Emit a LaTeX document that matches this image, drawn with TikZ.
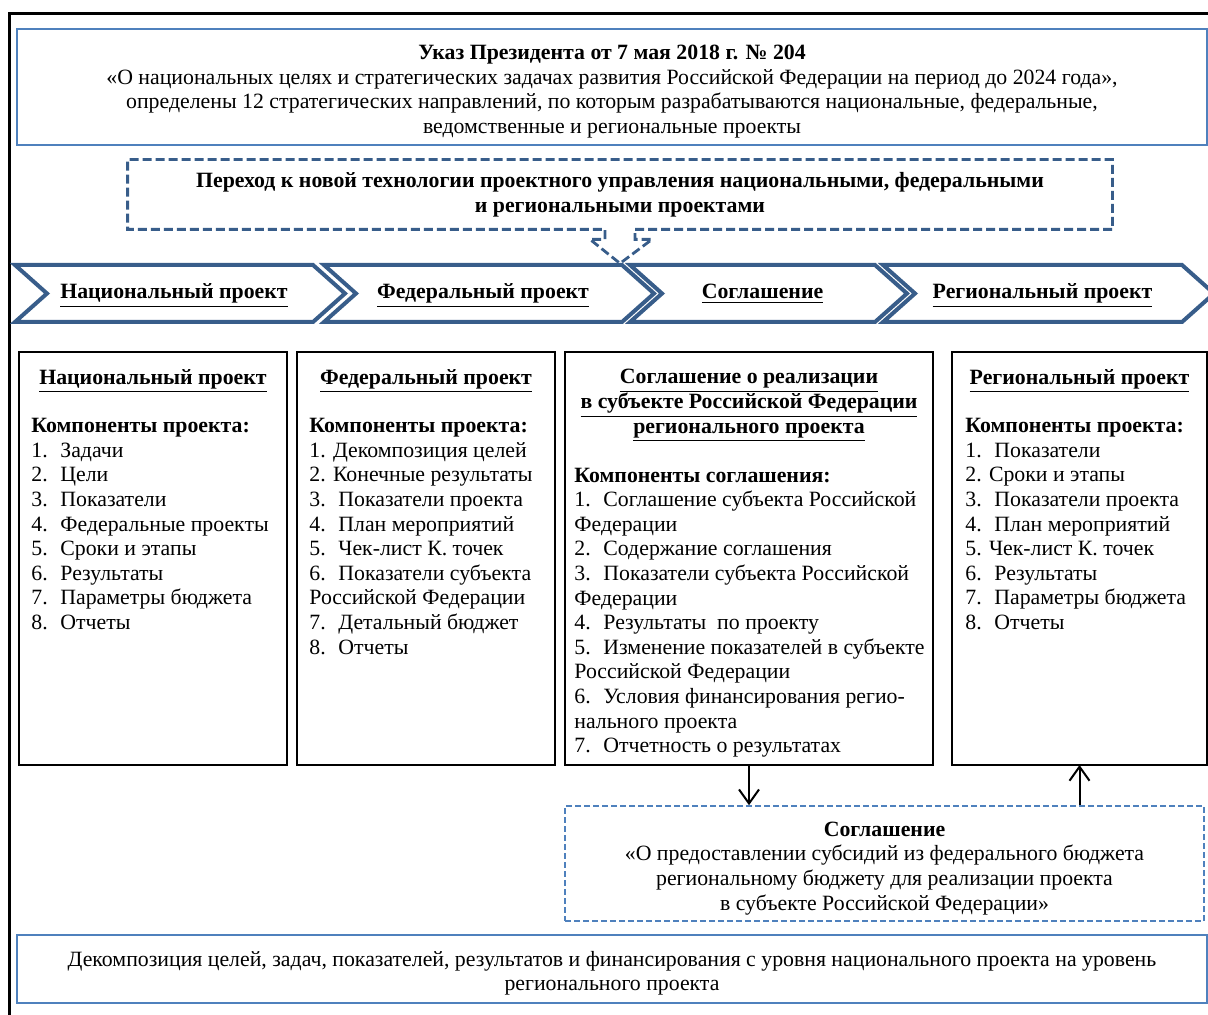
\documentclass[tikz,border=0pt]{standalone}
\usepackage{fontspec}
\setmainfont{Liberation Serif}
\definecolor{myblue}{RGB}{79,129,189}
\definecolor{mydarkblue}{RGB}{56,93,138}
\usetikzlibrary{arrows.meta,positioning,calc}
\newcommand{\nr}[1]{\makebox[14.5pt][l]{#1}}
\newcommand{\topstrut}{\rule{0pt}{12pt}}

\begin{document}
\begin{tikzpicture}[
  x=0.5pt, y=-0.5pt,
  every node/.style={font=\fontsize{10.9}{12.3}\selectfont},
  bluebox/.style={
    draw=myblue,
    line width=1.3pt,
    align=center,
    inner sep=0pt
    },
  dashbox/.style={
    draw=mydarkblue,
    line width=1.4pt,
    dash pattern=on 4.5pt off 2pt
    },
  subsbox/.style={
    draw=myblue,
    line width=0.8pt,
    dash pattern=on 3pt off 1.5pt,
    align=center,
    inner sep=0pt
    },
  chevron/.style={
    draw=mydarkblue,
    line width=2pt,
    fill=white
    },
  chevtext/.style={
    anchor=base,
    font=\fontsize{10.9}{12.3}\selectfont\bfseries
    },
  blackbox/.style={
    draw,
    line width=1pt,
    minimum height=206.5pt,
    inner sep=0pt,
    outer sep=0pt
    },
  boxtitle/.style={
    anchor=north,
    align=center,
    inner sep=0pt,
    font=\fontsize{10.9}{12.3}\selectfont\bfseries
    },
  boxlist/.style={
    anchor=north west,
    align=left,
    inner sep=0pt
    },
  arr/.style={
    line width=1pt,
    -{Straight Barb[length=7pt,width=10pt]}
    }
]
\useasboundingbox (0,0) rectangle (1208,1015);

% outer frame
\draw[line width=1.5pt] (9,1020) -- (9,14) -- (1212,14);

% decree
\node[bluebox, minimum width=595pt, minimum height=58pt] (ukaz) at (612,87)
  {\topstrut\textbf{Указ Президента от 7 мая 2018 г. № 204}\\
   «О национальных целях и стратегических задачах развития Российской Федерации на период до 2024 года»,\\
   определены 12 стратегических направлений, по которым разрабатываются национальные, федеральные,\\
   ведомственные и региональные проекты};

% transition box with dashed arrow
\node[align=center, inner sep=0pt, minimum width=492pt, minimum height=34.5pt] (perehod) at (620,194.5)
  {\textbf{Переход к новой технологии проектного управления национальными, федеральными}\\
   \textbf{и региональными проектами}};

% chevrons
\foreach \xl/\xr/\lbl [count=\i] in {15/313/Национальный проект, 324/622/Федеральный проект, 630/875/Соглашение, 883/1182/Региональный проект}
{
  \draw[chevron] (\xl,265) -- (\xr,265) -- (\xr+32,293.5) -- (\xr,322) -- (\xl,322) -- (\xl+32,293.5) -- cycle;
  \node[chevtext] (chev\i) at ({(\xl+\xr)/2+10},299) {\underline{\lbl}};
}

\draw[dashbox] ($(perehod.south)+(15,0)$) -- (perehod.south east) -- (perehod.north east)
  -- (perehod.north west) -- (perehod.south west) -- ($(perehod.south)+(-15,0)$)
  -- ++(0,10) -- ++(-15,0) -- ++(30,24) -- ++(32,-24) -- ++(-17,0) -- cycle;

% component boxes
\node[blackbox, minimum width=134pt] (natbox) at (153,558.5) {};
\node[blackbox, minimum width=129pt, right=5pt of natbox] (fedbox) {};
\node[blackbox, minimum width=184pt, right=5pt of fedbox] (soglbox) {};
\node[blackbox, minimum width=127.5pt, right=9.5pt of soglbox] (regbox) {};

\node[boxtitle] (nattitle) at ($(natbox.north)+(0,17)$) {\underline{Национальный проект}};
\node[boxtitle] (fedtitle) at ($(fedbox.north)+(0,17)$) {\underline{Федеральный проект}};
\node[boxtitle] (sogltitle) at ($(soglbox.north)+(0,17)$)
  {\underline{Соглашение о реализации}\\ \underline{в субъекте Российской Федерации}\\ \underline{регионального проекта}};
\node[boxtitle] (regtitle) at ($(regbox.north)+(0,17)$) {\underline{Региональный проект}};

\node[boxlist] (natlist) at ($(natbox.north west)+(12,66)$)
  {\textbf{Компоненты проекта:}\\
   \nr{1.}Задачи\\
   \nr{2.}Цели\\
   \nr{3.}Показатели\\
   \nr{4.}Федеральные проекты\\
   \nr{5.}Сроки и этапы\\
   \nr{6.}Результаты\\
   \nr{7.}Параметры бюджета\\
   \nr{8.}Отчеты};
\node[boxlist] (fedlist) at ($(fedbox.north west)+(12,66)$)
  {\textbf{Компоненты проекта:}\\
   1. Декомпозиция целей\\
   2. Конечные результаты\\
   \nr{3.}Показатели проекта\\
   \nr{4.}План мероприятий\\
   \nr{5.}Чек-лист К. точек\\
   \nr{6.}Показатели субъекта\\
   Российской Федерации\\
   \nr{7.}Детальный бюджет\\
   \nr{8.}Отчеты};
\node[boxlist] (sogllist) at ($(soglbox.north west)+(9,115.5)$)
  {\textbf{Компоненты соглашения:}\\
   \nr{1.}Соглашение субъекта Российской\\
   Федерации\\
   \nr{2.}Содержание соглашения\\
   \nr{3.}Показатели субъекта Российской\\
   Федерации\\
   \nr{4.}Результаты \ по проекту\\
   \nr{5.}Изменение показателей в субъекте\\
   Российской Федерации\\
   \nr{6.}Условия финансирования регио-\\
   нального проекта\\
   \nr{7.}Отчетность о результатах};
\node[boxlist] (reglist) at ($(regbox.north west)+(13,66)$)
  {\textbf{Компоненты проекта:}\\
   \nr{1.}Показатели\\
   2. Сроки и этапы\\
   \nr{3.}Показатели проекта\\
   \nr{4.}План мероприятий\\
   5. Чек-лист К. точек\\
   \nr{6.}Результаты\\
   \nr{7.}Параметры бюджета\\
   \nr{8.}Отчеты};

% subsidy agreement
\node[subsbox, minimum width=319.5pt, minimum height=57.5pt] (subs) at (884.5,863.5)
  {\topstrut\textbf{Соглашение}\\
   «О предоставлении субсидий из федерального бюджета\\
   региональному бюджету для реализации проекта\\
   в субъекте Российской Федерации»};

\draw[arr] (soglbox.south) -- (soglbox.south |- subs.north);
\draw[arr] (regbox.south |- subs.north) -- (regbox.south);

% decomposition
\node[bluebox, minimum width=595pt, minimum height=34pt] (decomp) at (612,969)
  {\topstrut Декомпозиция целей, задач, показателей, результатов и финансирования с уровня национального проекта на уровень\\
   регионального проекта};

\end{tikzpicture}
\end{document}
